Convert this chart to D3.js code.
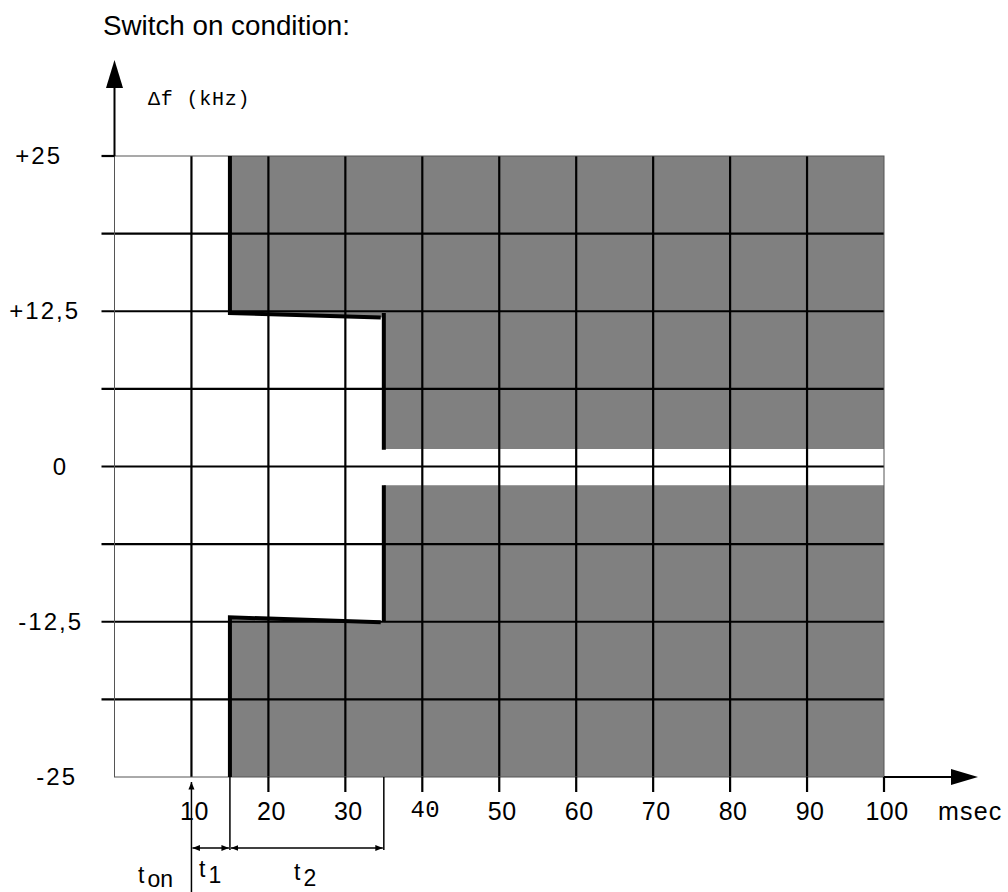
<!DOCTYPE html>
<html>
<head>
<meta charset="utf-8">
<script src="https://cdn.jsdelivr.net/npm/d3@7"></script>
<style>
  html, body { margin: 0; padding: 0; background: #fff; }
  svg { display: block; }
  .sans { font-family: "Liberation Sans", Arial, sans-serif; }
  .mono { font-family: "Liberation Mono", "DejaVu Sans Mono", monospace; }
</style>
</head>
<body>
<svg id="chart" width="1008" height="892"></svg>
<script>
// =========================
// DATA
// =========================
const xTicks = [10, 20, 30, 40, 50, 60, 70, 80, 90, 100];
const xTickLabels = ["10", "20", "30", "40", "50", "60", "70", "80", "90", "100"];
const gridX = [10, 20, 30, 40, 50, 60, 70, 80, 90];
const gridY = [18.75, 12.5, 6.25, 0, -6.25, -12.5, -18.75];
const yTicks = [25, 12.5, 0, -12.5, -25];
const yTickLabels = ["+25", "+12,5", "0", "-12,5", "-25"];

// forbidden zones (ms, kHz)
const upperZone = [[15, 25], [100, 25], [100, 1.4], [35, 1.4], [35, 12.0], [15, 12.36]];
const lowerZone = [[15, -25], [100, -25], [100, -1.5], [35, -1.5], [35, -12.55], [15, -12.14]];

// thick borders of the mask
const upperEdge = [[15, 25], [15, 12.36], [34.6, 12.0]];
const upperStep = [[35, 12.36], [35, 1.35]];
const lowerEdge = [[15, -25], [15, -12.14], [34.6, -12.55]];
const lowerStep = [[35, -12.5], [35, -1.5]];

// timing marks
const tOn = 10, t1End = 15, t2End = 35;

// =========================
// LAYOUT
// =========================
const svg = d3.select("#chart");
const x = d3.scaleLinear().domain([0, 100]).range([114.5, 884]);
const y = d3.scaleLinear().domain([-25, 25]).range([777, 156]);
const yLabelRight = [62, 80, 68, 83, 77];

const line = d3.line().x(d => x(d[0])).y(d => y(d[1]));

// =========================
// GRAY ZONES
// =========================
svg.selectAll("path.zone")
  .data([upperZone, lowerZone])
  .join("path")
  .attr("class", "zone")
  .attr("d", d => line(d) + "Z")
  .attr("fill", "#808080");

// =========================
// GRID
// =========================
svg.selectAll("line.gx")
  .data(gridX)
  .join("line")
  .attr("class", "gx")
  .attr("x1", d => x(d)).attr("x2", d => x(d))
  .attr("y1", y(25)).attr("y2", y(-25))
  .attr("stroke", "#000").attr("stroke-width", 2.2);

svg.selectAll("line.gy")
  .data(gridY)
  .join("line")
  .attr("class", "gy")
  .attr("x1", x(0) - 13).attr("x2", x(100))
  .attr("y1", d => y(d)).attr("y2", d => y(d))
  .attr("stroke", "#000").attr("stroke-width", 2.2);

// frame
svg.append("rect")
  .attr("x", x(0)).attr("y", y(25))
  .attr("width", x(100) - x(0)).attr("height", y(-25) - y(25))
  .attr("fill", "none").attr("stroke", "#555").attr("stroke-width", 1);

// small tick left of +25
svg.selectAll("line.yt")
  .data([25])
  .join("line")
  .attr("class", "yt")
  .attr("x1", x(0) - 13).attr("x2", x(0))
  .attr("y1", d => y(d)).attr("y2", d => y(d))
  .attr("stroke", "#000").attr("stroke-width", 2.2);

// x ticks below the frame
svg.selectAll("line.xt")
  .data(xTicks.filter(d => d !== tOn))
  .join("line")
  .attr("class", "xt")
  .attr("x1", d => x(d)).attr("x2", d => x(d))
  .attr("y1", y(-25)).attr("y2", y(-25) + 15)
  .attr("stroke", "#000").attr("stroke-width", 2.2);

// =========================
// MASK BORDERS
// =========================
svg.selectAll("path.edge")
  .data([upperEdge, upperStep, lowerEdge, lowerStep])
  .join("path")
  .attr("class", "edge")
  .attr("d", line)
  .attr("fill", "none")
  .attr("stroke", "#000")
  .attr("stroke-width", 4);

// =========================
// AXES
// =========================
svg.append("line")
  .attr("x1", x(0)).attr("x2", x(0))
  .attr("y1", 86).attr("y2", y(25))
  .attr("stroke", "#000").attr("stroke-width", 2);
svg.append("path")
  .attr("d", `M${x(0)},60 L${x(0) - 8.5},88 L${x(0) + 8.5},88 Z`)
  .attr("fill", "#000");

svg.append("line")
  .attr("x1", x(100)).attr("x2", 953)
  .attr("y1", y(-25)).attr("y2", y(-25))
  .attr("stroke", "#000").attr("stroke-width", 2);
svg.append("path")
  .attr("d", `M978,${y(-25)} L951,${y(-25) - 8} L951,${y(-25) + 8} Z`)
  .attr("fill", "#000");

// =========================
// TEXT
// =========================
svg.append("text")
  .attr("class", "sans")
  .attr("x", 103).attr("y", 35)
  .attr("font-size", 27)
  .attr("textLength", 247)
  .attr("lengthAdjust", "spacingAndGlyphs")
  .text("Switch on condition:");

svg.append("text")
  .attr("class", "mono")
  .attr("x", 148).attr("y", 105)
  .attr("font-size", 20)
  .attr("letter-spacing", 0.8)
  .text("\u0394f (kHz)");

svg.selectAll("text.yl")
  .data(yTicks)
  .join("text")
  .attr("class", "yl sans")
  .attr("x", (d, i) => yLabelRight[i])
  .attr("y", d => y(d) + 8)
  .attr("text-anchor", "end")
  .attr("font-size", 24)
  .attr("letter-spacing", 2)
  .text((d, i) => yTickLabels[i]);

svg.selectAll("text.xl")
  .data(xTicks)
  .join("text")
  .attr("class", d => d === 40 ? "xl mono" : "xl sans")
  .attr("x", d => x(d) + 3)
  .attr("y", d => d === 40 ? 817 : 820)
  .attr("text-anchor", "middle")
  .attr("font-size", d => d === 40 ? 24 : 25)
  .attr("letter-spacing", 0.5)
  .text((d, i) => xTickLabels[i]);

svg.append("text")
  .attr("class", "sans")
  .attr("x", 938).attr("y", 820)
  .attr("font-size", 25)
  .attr("letter-spacing", 1.2)
  .text("msec");

// =========================
// TIMING DIMENSIONS
// =========================
const dimY = 848;
svg.append("defs").append("marker")
  .attr("id", "ah")
  .attr("viewBox", "0 0 10 10")
  .attr("refX", 10).attr("refY", 5)
  .attr("markerWidth", 5).attr("markerHeight", 5)
  .attr("markerUnits", "strokeWidth")
  .attr("orient", "auto-start-reverse")
  .append("path")
  .attr("d", "M0,1 L10,5 L0,9 Z")
  .attr("fill", "#000");

// vertical extension lines
svg.selectAll("line.ext")
  .data([t1End, t2End])
  .join("line")
  .attr("class", "ext")
  .attr("x1", d => x(d)).attr("x2", d => x(d))
  .attr("y1", y(-25)).attr("y2", dimY + 2)
  .attr("stroke", "#000").attr("stroke-width", 1.5);

// t_on arrow
svg.append("line")
  .attr("x1", x(tOn)).attr("x2", x(tOn))
  .attr("y1", 892).attr("y2", y(-25) + 5)
  .attr("stroke", "#000").attr("stroke-width", 1.5)
  .attr("marker-end", "url(#ah)");

svg.selectAll("line.dim")
  .data([[tOn, t1End], [t1End, t2End]])
  .join("line")
  .attr("class", "dim")
  .attr("x1", d => x(d[0]) + 1).attr("x2", d => x(d[1]) - 1)
  .attr("y1", dimY).attr("y2", dimY)
  .attr("stroke", "#000").attr("stroke-width", 1.5)
  .attr("marker-start", "url(#ah)")
  .attr("marker-end", "url(#ah)");

function sub(xp, yp, main, s, dy) {
  const t = svg.append("text")
    .attr("class", "sans")
    .attr("x", xp).attr("y", yp)
    .attr("font-size", 23);
  t.append("tspan").text(main);
  t.append("tspan").attr("dx", 3).attr("dy", dy).text(s);
}
sub(138, 883, "t", "on", 4);
sub(199, 877, "t", "1", 6);
sub(294, 880, "t", "2", 6);
</script>
</body>
</html>
